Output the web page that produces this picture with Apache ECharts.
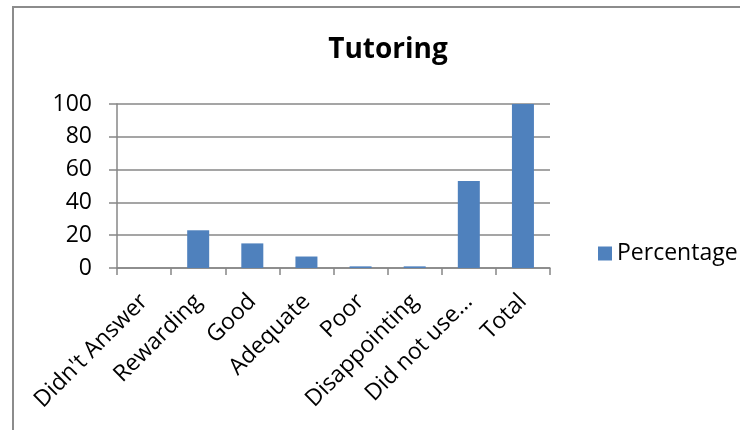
<!DOCTYPE html>
<html>
<head>
<meta charset="utf-8">
<script src="https://cdn.jsdelivr.net/npm/echarts@6/dist/echarts.min.js"></script>
<style>
html,body{margin:0;padding:0;background:#fff;}
#chart{width:740px;height:430px;}
</style>
</head>
<body>
<div id="chart"></div>
<script>
var categories = ["Didn't Answer", "Rewarding", "Good", "Adequate", "Poor", "Disappointing", "Did not use…", "Total"];
var percentage = [0, 23, 15, 7, 1, 1, 53, 100];
var yTicks = { min: 0, max: 100, interval: 20 };
var seriesName = "Percentage";
var titleText = "Tutoring";

var FONT = "'Open Sans', sans-serif";
var chart = echarts.init(document.getElementById('chart'));
chart.setOption({
  animation: false,
  backgroundColor: '#fff',
  graphic: [{
    type: 'rect',
    shape: { x: 13, y: 7, width: 800, height: 500 },
    style: { fill: 'none', stroke: '#8c8c8c', lineWidth: 2 },
    silent: true
  }],
  title: {
    text: titleText,
    left: 383,
    textAlign: 'center',
    top: 31,
    textStyle: { fontFamily: FONT, fontSize: 28, fontWeight: 'bold', color: '#000' }
  },
  legend: {
    data: [seriesName],
    orient: 'vertical',
    left: 593,
    top: 237,
    itemWidth: 14,
    itemHeight: 14,
    itemGap: 5,
    icon: 'rect',
    textStyle: { fontFamily: FONT, fontSize: 23, color: '#000' }
  },
  grid: { left: 117, right: 190, top: 104, bottom: 162, containLabel: false },
  xAxis: {
    type: 'category',
    data: categories,
    boundaryGap: true,
    axisLine: { lineStyle: { color: '#878787', width: 1.5 } },
    axisTick: { show: true, inside: false, length: 7, alignWithLabel: false, lineStyle: { color: '#878787', width: 1.5 } },
    axisLabel: { interval: 0, rotate: 45, margin: 30, fontFamily: FONT, fontSize: 23, color: '#000' }
  },
  yAxis: {
    type: 'value',
    min: yTicks.min, max: yTicks.max, interval: yTicks.interval,
    axisLine: { show: true, lineStyle: { color: '#878787', width: 1.5 } },
    axisTick: { show: true, inside: false, length: 8, lineStyle: { color: '#878787', width: 1.5 } },
    splitLine: { show: true, lineStyle: { color: '#878787', width: 1.5 } },
    axisLabel: { margin: 25, fontFamily: FONT, fontSize: 23, color: '#000' }
  },
  series: [{
    name: seriesName,
    type: 'bar',
    data: percentage,
    barWidth: 22,
    itemStyle: { color: '#4f81bd' }
  }]
});
</script>
</body>
</html>
